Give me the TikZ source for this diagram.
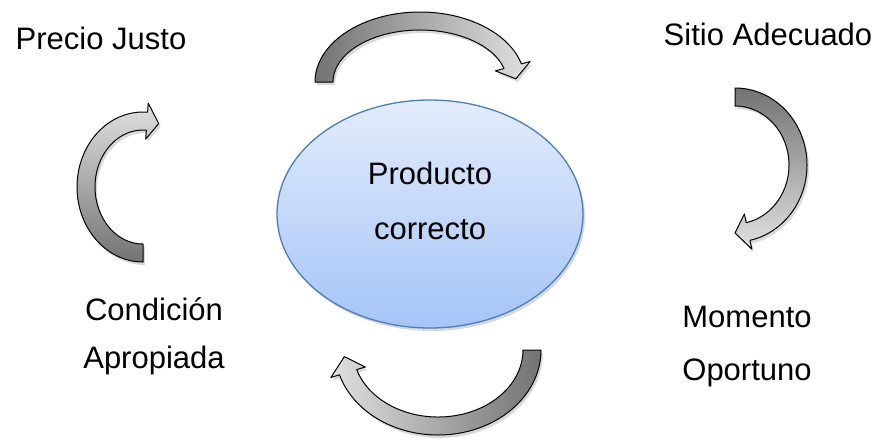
\documentclass[tikz,border=0pt]{standalone}
\usepackage{fontspec}
\setmainfont{Liberation Sans}
\usetikzlibrary{shapes.geometric,shadows}
\definecolor{bubbletop}{HTML}{E3ECFC}
\definecolor{bubblebottom}{HTML}{A5C4F7}
\definecolor{bubbleedge}{HTML}{4A7EBB}
\newcommand\ringarrow[6]{%
  \pgfmathsetmacro\rxo{#2+9}\pgfmathsetmacro\ryo{#3+9}%
  \pgfmathsetmacro\rxi{#2-9}\pgfmathsetmacro\ryi{#3-9}%
  \pgfmathsetmacro\rxw{#2+18}\pgfmathsetmacro\ryw{#3+18}%
  \pgfmathsetmacro\rxv{#2-18}\pgfmathsetmacro\ryv{#3-18}%
  \pgfmathsetmacro\tipang{#5+12}%
  \begin{scope}[shift={(#1)}]
    \path[bend arrow,#6] (#4:{\rxo} and {\ryo})
      arc[start angle=#4, end angle=#5, x radius=\rxo, y radius=\ryo]
      -- (#5:{\rxw} and {\ryw}) -- (\tipang:{#2} and {#3}) -- (#5:{\rxv} and {\ryv})
      -- (#5:{\rxi} and {\ryi})
      arc[start angle=#5, end angle=#4, x radius=\rxi, y radius=\ryi] -- cycle;
  \end{scope}}

\begin{document}
\begin{tikzpicture}[x=1pt, y=-1pt,
  bubble/.style={ellipse, draw=bubbleedge, line width=1.3pt, top color=bubbletop, bottom color=bubblebottom,
    minimum width=306pt, minimum height=228pt, align=center, font=\fontsize{31}{55}\selectfont, text depth=26pt,
    drop shadow={opacity=.3, shadow xshift=2pt, shadow yshift=-3pt}},
  tag/.style={anchor=base, align=center, font=\fontsize{31}{53}\selectfont},
  bend arrow/.style={draw=black, line width=1pt, line join=round,
    drop shadow={opacity=.3, shadow xshift=2pt, shadow yshift=-3pt}}]
\useasboundingbox (0,0) rectangle (882,440);
\node[bubble] (producto) at (430,214) {Producto\\correcto};
\node[tag] (precio) at (101,49) {Precio Justo};
\node[tag] (sitio) at (768,45) {Sitio Adecuado};
\node[tag, font=\fontsize{31}{48}\selectfont] (condicion) at (154,368) {Condición\\Apropiada};
\node[tag] (momento) at (747,380) {Momento\\Oportuno};
\ringarrow{420,82}{96}{61}{180}{345}{left color=black!55, right color=black!12}
\ringarrow{735,165}{63}{68}{270}{438}{top color=black!55, bottom color=black!12}
\ringarrow{438,350}{94}{76}{0}{163}{left color=black!12, right color=black!55}
\ringarrow{143,187}{57}{66}{90}{274}{top color=black!12, bottom color=black!55}
\end{tikzpicture}
\end{document}
